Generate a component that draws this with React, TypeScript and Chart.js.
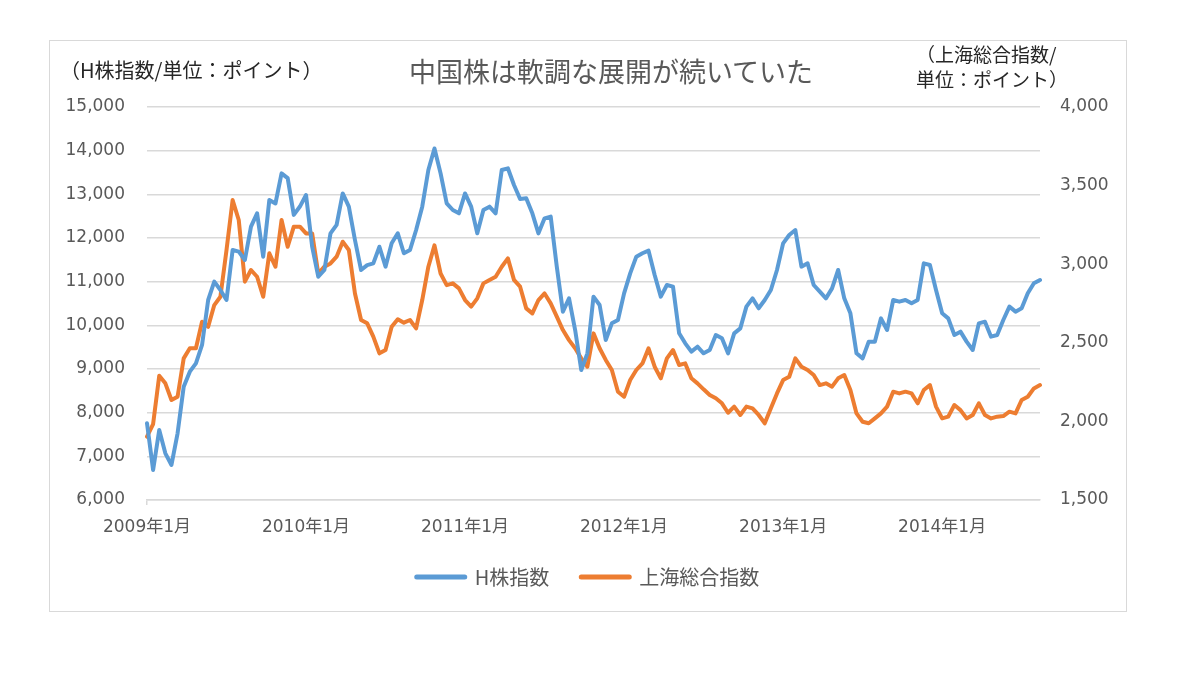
import React, { useEffect, useRef } from "react";
import { Chart, registerables } from "chart.js";

Chart.register(...registerables);

// Year tick labels on the horizontal axis and the (bi-weekly) point index where each year begins
const yearTickLabels = ["2009年1月", "2010年1月", "2011年1月", "2012年1月", "2013年1月", "2014年1月"];
const yearTickIndex = [0, 26, 52, 78, 104, 130];

const seriesNames = ["H株指数", "上海総合指数"];

// H株指数 (left axis), bi-weekly readings, Jan 2009 – Aug 2014
const hSharesIndex = [
  7756, 6687, 7603, 7069, 6802, 7527, 8595, 8939, 9130, 9550,
  10580, 11000, 10809, 10580, 11725, 11687, 11496, 12260, 12565, 11573,
  12870, 12790, 13480, 13370, 12530, 12720, 12985, 11803, 11114, 11267,
  12107, 12300, 13020, 12718, 11954, 11267, 11380, 11420, 11800, 11344,
  11878, 12107, 11650, 11725, 12183, 12718, 13557, 14050, 13480, 12794,
  12641, 12565, 13020, 12718, 12107, 12641, 12718, 12565, 13557, 13596,
  13214, 12893, 12908, 12565, 12107, 12450, 12490, 11344, 10313, 10618,
  9893, 8977, 9359, 10657, 10466, 9664, 10046, 10122, 10733, 11190,
  11573, 11650, 11710, 11152, 10657, 10924, 10885, 9817, 9588, 9397,
  9511, 9359, 9435, 9779, 9702, 9359, 9817, 9931, 10428, 10618,
  10390, 10580, 10809, 11267, 11878, 12069, 12183, 11344, 11420, 10924,
  10771, 10618, 10847, 11267, 10618, 10275, 9359, 9244, 9626, 9626,
  10160, 9893, 10580, 10542, 10580, 10504, 10580, 11420, 11382, 10809,
  10275, 10160, 9779, 9855, 9626, 9435, 10046, 10084, 9741, 9779,
  10122, 10428, 10313, 10390, 10733, 10962, 11038,
];

// 上海総合指数 (right axis), bi-weekly readings, Jan 2009 – Aug 2014
const shanghaiComposite = [
  1903, 1983, 2290, 2242, 2136, 2157, 2401, 2465, 2465, 2634,
  2602, 2740, 2793, 3090, 3408, 3281, 2889, 2963, 2920, 2793,
  3069, 2984, 3281, 3111, 3239, 3239, 3196, 3196, 2941, 2984,
  3005, 3048, 3143, 3090, 2814, 2645, 2624, 2539, 2433, 2454,
  2602, 2650, 2628, 2645, 2592, 2772, 2984, 3120, 2941, 2867,
  2878, 2846, 2772, 2730, 2783, 2878, 2900, 2920, 2984, 3037,
  2900, 2857, 2719, 2687, 2772, 2814, 2751, 2666, 2581, 2517,
  2465, 2401, 2348, 2560, 2465, 2391, 2327, 2189, 2157, 2263,
  2327, 2369, 2465, 2348, 2274, 2401, 2454, 2359, 2369, 2274,
  2242, 2204, 2168, 2147, 2115, 2055, 2094, 2041, 2094, 2083,
  2041, 1988, 2083, 2178, 2263, 2284, 2401, 2348, 2327, 2295,
  2231, 2242, 2221, 2274, 2295, 2200, 2051, 1998, 1988, 2019,
  2051, 2094, 2189, 2178, 2189, 2178, 2115, 2200, 2231, 2094,
  2019, 2030, 2104, 2072, 2019, 2041, 2115, 2041, 2019, 2030,
  2034, 2062, 2051, 2136, 2157, 2210, 2231,
];

const BLUE = "#5b9bd5";
const ORANGE = "#ed7d31";
const GRID = "#d9d9d9";
const TEXT = "#595959";
const TICK_FONT = "'DejaVu Sans', 'Noto Sans CJK JP', sans-serif";
const JP_FONT = "'Noto Sans CJK JP', sans-serif";

const categories = hSharesIndex.map((_, i) => {
  const k = yearTickIndex.indexOf(i);
  return k >= 0 ? yearTickLabels[k] : "";
});

export default function App() {
  const canvasRef = useRef<HTMLCanvasElement | null>(null);

  useEffect(() => {
    if (!canvasRef.current) return;
    const chart = new Chart(canvasRef.current, {
      type: "line",
      data: {
        labels: categories,
        datasets: [
          {
            label: seriesNames[0],
            data: hSharesIndex,
            yAxisID: "yLeft",
            borderColor: BLUE,
            backgroundColor: BLUE,
            borderWidth: 4,
            borderJoinStyle: "round",
            borderCapStyle: "round",
            pointRadius: 0,
            tension: 0,
          },
          {
            label: seriesNames[1],
            data: shanghaiComposite,
            yAxisID: "yRight",
            borderColor: ORANGE,
            backgroundColor: ORANGE,
            borderWidth: 4,
            borderJoinStyle: "round",
            borderCapStyle: "round",
            pointRadius: 0,
            tension: 0,
          },
        ],
      },
      options: {
        responsive: false,
        animation: false,
        layout: { padding: { top: 66, bottom: 14, left: 0, right: 0 } },
        plugins: {
          title: { display: false },
          tooltip: { enabled: false },
          legend: {
            display: true,
            position: "bottom",
            labels: {
              usePointStyle: true,
              pointStyle: "line",
              pointStyleWidth: 48,
              padding: 32,
              color: TEXT,
              font: { family: JP_FONT, size: 20 },
              generateLabels: (c: any) => {
                const base = Chart.defaults.plugins.legend.labels.generateLabels(c);
                return base.map((item: any, i: number) => ({
                  ...item,
                  strokeStyle: i === 0 ? BLUE : ORANGE,
                  fillStyle: i === 0 ? BLUE : ORANGE,
                  lineWidth: 5,
                  lineCap: "round",
                  pointStyle: "line",
                }));
              },
            },
          },
        },
        scales: {
          x: {
            type: "category",
            offset: false,
            afterFit: (s: any) => {
              s.height = 35;
            },
            grid: {
              display: true,
              drawOnChartArea: false,
              drawTicks: true,
              tickLength: 5,
              color: (ctx: any) => (yearTickIndex.includes(ctx.index) ? GRID : "rgba(0,0,0,0)"),
              lineWidth: 1.5,
            },
            border: { display: true, color: GRID, width: 1.5 },
            ticks: {
              autoSkip: false,
              maxRotation: 0,
              minRotation: 0,
              padding: 12,
              color: TEXT,
              font: { family: TICK_FONT, size: 17 },
              callback: function (this: any, value: any) {
                const l = this.getLabelForValue(value);
                return l === "" ? null : l;
              },
            },
          },
          yLeft: {
            type: "linear",
            position: "left",
            min: 6000,
            max: 15000,
            afterFit: (s: any) => {
              s.width = 97;
            },
            grid: { color: GRID, lineWidth: 1.5, drawTicks: false },
            border: { display: false },
            ticks: {
              stepSize: 1000,
              padding: 22,
              color: TEXT,
              font: { family: TICK_FONT, size: 17 },
              callback: (v: any) => Number(v).toLocaleString("en-US"),
            },
          },
          yRight: {
            type: "linear",
            position: "right",
            min: 1500,
            max: 4000,
            afterFit: (s: any) => {
              s.width = 86;
            },
            grid: { display: false, drawOnChartArea: false, drawTicks: false },
            border: { display: false },
            ticks: {
              stepSize: 500,
              padding: 20,
              color: TEXT,
              font: { family: TICK_FONT, size: 17 },
              callback: (v: any) => Number(v).toLocaleString("en-US"),
            },
          },
        },
      },
    } as any);
    return () => chart.destroy();
  }, []);

  return (
    <div style={{ position: "absolute", left: 0, top: 0, width: 1200, height: 684, background: "#fff" }}>
      <div
        style={{
          position: "absolute",
          left: 49,
          top: 40,
          width: 1078,
          height: 572,
          boxSizing: "border-box",
          border: `1px solid ${GRID}`,
        }}
      >
        <canvas
          ref={canvasRef}
          width={1076}
          height={570}
          style={{ position: "absolute", left: 0, top: 0, width: 1076, height: 570 }}
        />
      </div>
      <div
        style={{
          position: "absolute",
          left: 60,
          top: 56,
          fontFamily: JP_FONT,
          fontSize: 20,
          lineHeight: "28px",
          color: "#262626",
          whiteSpace: "nowrap",
        }}
      >
        （H株指数/単位：ポイント）
      </div>
      <div
        style={{
          position: "absolute",
          left: 300,
          width: 622,
          top: 52,
          textAlign: "center",
          fontFamily: JP_FONT,
          fontSize: 27,
          lineHeight: "38px",
          color: TEXT,
          whiteSpace: "nowrap",
        }}
      >
        中国株は軟調な展開が続いていた
      </div>
      <div
        style={{
          position: "absolute",
          left: 916,
          top: 41,
          fontFamily: JP_FONT,
          fontSize: 19,
          lineHeight: "25px",
          color: "#262626",
          whiteSpace: "nowrap",
        }}
      >
        （上海総合指数/
        <br />
        単位：ポイント）
      </div>
    </div>
  );
}
